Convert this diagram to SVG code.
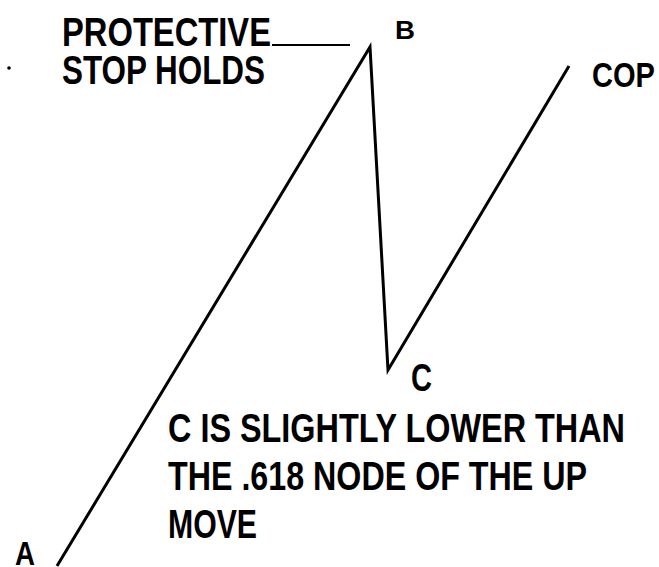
<svg xmlns="http://www.w3.org/2000/svg" width="659" height="567" viewBox="0 0 659 567">
<style>
text{font-family:"Liberation Sans Narrow","Liberation Sans",Arial,sans-serif;font-weight:bold;fill:#000}
.ln{fill:none;stroke:#000;stroke-width:3;stroke-linejoin:miter;stroke-linecap:butt}
</style>
<rect width="659" height="567" fill="#fff"/>
<g id="connectors">
<polyline class="ln" points="57,566 370,47 388,370 569,66"/>
<line x1="272" y1="45" x2="350" y2="45" stroke="#000" stroke-width="2"/>
</g>
<circle cx="9" cy="68" r="1.8" fill="#000"/>
<g id="label-protective">
<text x="62" y="46" font-size="40" textLength="209" lengthAdjust="spacingAndGlyphs">PROTECTIVE</text>
<text x="62" y="84" font-size="40" textLength="203" lengthAdjust="spacingAndGlyphs">STOP HOLDS</text>
</g>
<g id="node-B"><text x="395" y="39" font-size="26" textLength="20" lengthAdjust="spacingAndGlyphs">B</text></g>
<g id="node-COP"><text x="592" y="87" font-size="35" textLength="63" lengthAdjust="spacingAndGlyphs">COP</text></g>
<g id="node-C"><text x="411" y="391" font-size="38" textLength="21" lengthAdjust="spacingAndGlyphs">C</text></g>
<g id="node-A"><text x="15" y="565" font-size="34" textLength="20" lengthAdjust="spacingAndGlyphs">A</text></g>
<g id="note">
<text x="168" y="442" font-size="41" textLength="457" lengthAdjust="spacingAndGlyphs">C IS SLIGHTLY LOWER THAN</text>
<text x="168" y="490" font-size="41" textLength="419" lengthAdjust="spacingAndGlyphs">THE .618 NODE OF THE UP</text>
<text x="168" y="538" font-size="41" textLength="89" lengthAdjust="spacingAndGlyphs">MOVE</text>
</g>
</svg>
